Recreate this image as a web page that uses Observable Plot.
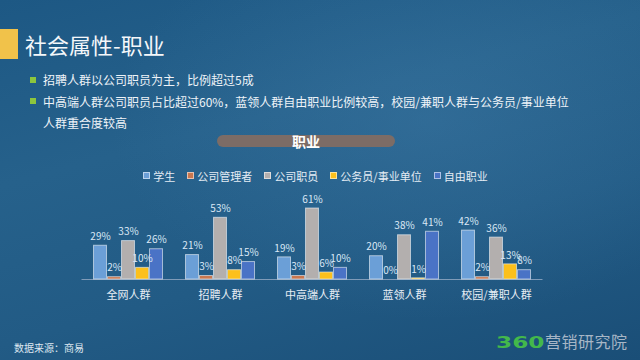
<!DOCTYPE html>
<html>
<head>
<meta charset="utf-8">
<script src="https://cdn.jsdelivr.net/npm/d3@7"></script>
<script src="https://cdn.jsdelivr.net/npm/@observablehq/plot@0.6"></script>
<style>
  html, body { margin: 0; padding: 0; }
  #slide {
    position: relative; width: 640px; height: 360px; overflow: hidden;
    font-family: "Noto Sans CJK SC", "Noto Sans", sans-serif;
    background:
      radial-gradient(ellipse 320px 200px at 430px 120px, rgba(70,130,175,0.35), rgba(70,130,175,0) 100%),
      linear-gradient(165deg, #1d5884 0%, #26618b 35%, #225b85 65%, #1a4e77 100%);
  }
  .abs { position: absolute; }
  #ybox { left: 0; top: 29px; width: 18px; height: 30px; background: #f1c24a; }
  #title { left: 25px; top: 29px; font-size: 22px; line-height: 30px; color: #f4f7fa; white-space: nowrap; }
  .bullet { left: 43px; font-size: 12px; line-height: 21.5px; color: #eef3f8; white-space: nowrap; }
  .bsq { left: 30px; width: 6px; height: 6px; background: #8cc63e; }
  #pill { left: 217px; top: 135px; width: 178px; height: 12px; border-radius: 6px; background: #7c6c66; }
  #pilltext { left: 217px; width: 178px; top: 131px; text-align: center; font-size: 14px; line-height: 20px; font-weight: 700; color: #ffffff; }
  #legend { left: 0; width: 631px; top: 168px; display: flex; justify-content: center; gap: 12px; font-size: 11px; line-height: 16px; color: #e4ecf4; }
  .li { display: flex; align-items: flex-start; white-space: nowrap; }
  .sw { width: 5px; height: 5px; margin-top: 4px; margin-right: 3px; border: 1px solid rgba(255,255,255,0.55); }
  #chart { left: 0; top: 180px; }
  #source { left: 14px; top: 341px; font-size: 10px; line-height: 14px; color: #dde7f0; }
  #brand { left: 496px; top: 330px; white-space: nowrap; line-height: 22px; }
  #brand .num { display: inline-block; font-family: "DejaVu Sans", sans-serif; font-weight: 700; font-size: 16px; color: #43b84b; transform: scaleX(1.45); transform-origin: left center; width: 49px; }
  #brand .txt { font-size: 16px; color: #a7b6c6; letter-spacing: 0.5px; }
</style>
</head>
<body>
<div id="slide">
  <div id="ybox" class="abs"></div>
  <div id="title" class="abs">社会属性-职业</div>

  <div class="abs bsq" style="top:77px"></div>
  <div class="abs bullet" style="top:69px">招聘人群以公司职员为主，比例超过5成</div>
  <div class="abs bsq" style="top:98px"></div>
  <div class="abs bullet" style="top:90.5px">中高端人群公司职员占比超过60%，蓝领人群自由职业比例较高，校园/兼职人群与公务员/事业单位<br>人群重合度较高</div>

  <div id="pill" class="abs"></div>
  <div id="pilltext" class="abs">职业</div>

  <div id="legend" class="abs"></div>
  <div id="chart" class="abs"></div>

  <div id="source" class="abs">数据来源：商易</div>
  <div id="brand" class="abs"><span class="num">360</span><span class="txt">营销研究院</span></div>
</div>
<script>
const groups = ["全网人群", "招聘人群", "中高端人群", "蓝领人群", "校园/兼职人群"];
const seriesNames = ["学生", "公司管理者", "公司职员", "公务员/事业单位", "自由职业"];
const seriesColors = ["#6b9fd7", "#c8774f", "#b3afae", "#fcc01c", "#4a73c6"];

const student   = [29, 21, 19, 20, 42];
const manager   = [2, 3, 3, 0, 2];
const staff     = [33, 53, 61, 38, 36];
const civil     = [10, 8, 6, 1, 13];
const freelance = [26, 15, 10, 41, 8];
const seriesValues = [student, manager, staff, civil, freelance];

const rows = groups.flatMap((g, i) =>
  seriesNames.map((s, j) => ({group: g, series: s, value: seriesValues[j][i]}))
);

// legend
const legend = document.getElementById("legend");
seriesNames.forEach((s, j) => {
  const item = document.createElement("div");
  item.className = "li";
  const sw = document.createElement("span");
  sw.className = "sw";
  sw.style.background = seriesColors[j];
  const t = document.createElement("span");
  t.textContent = s;
  item.appendChild(sw); item.appendChild(t);
  legend.appendChild(item);
});

const chart = Plot.plot({
  width: 640,
  height: 129,
  marginTop: 28,
  marginBottom: 30,
  marginLeft: 88,
  marginRight: 104,
  style: {background: "transparent", color: "#e8eef5", fontSize: "11px", fontFamily: "'Noto Sans CJK SC', sans-serif", overflow: "visible"},
  fx: {domain: groups, paddingInner: 0.2225, paddingOuter: 0.032, label: null, axis: "bottom", tickSize: 0, tickPadding: 12},
  x: {domain: seriesNames, padding: 0, axis: null},
  y: {domain: [0, 61], axis: null},
  color: {domain: seriesNames, range: seriesColors},
  marks: [
    Plot.ruleY([0], {stroke: "#7f9bb8", strokeWidth: 1, insetLeft: -10.5, insetRight: -10.5}),
    Plot.barY(rows, {fx: "group", x: "series", y: "value", fill: "series", stroke: "#eef3f9", strokeOpacity: 0.6, strokeWidth: 1, insetLeft: 0.5, insetRight: 0.5}),
    Plot.text(rows, {fx: "group", x: "series", y: "value", text: d => d.value + "%", dy: -9, fill: "#dbe8f6", fontSize: 10})
  ]
});
document.getElementById("chart").appendChild(chart);
</script>
</body>
</html>
